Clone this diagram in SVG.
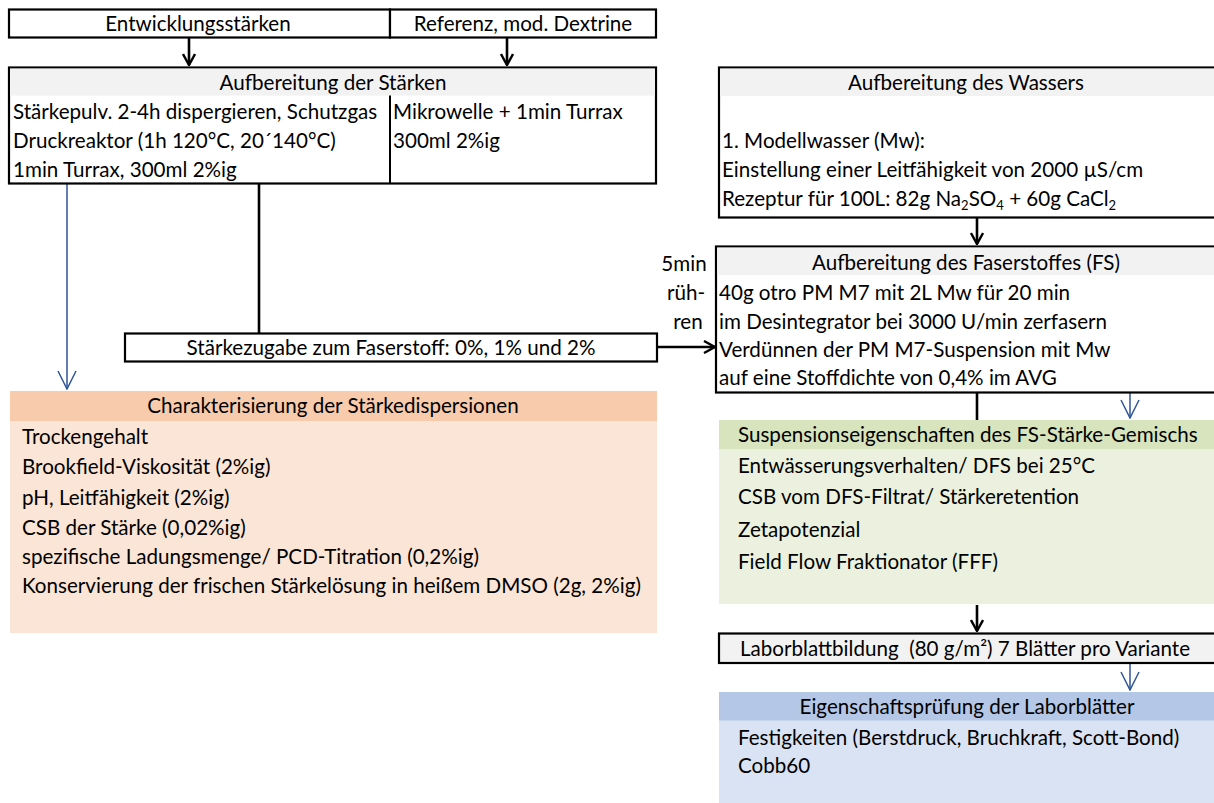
<svg xmlns="http://www.w3.org/2000/svg" width="1214" height="803" viewBox="0 0 1214 803">
<style>
text{font-family:Lato,"Carlito","Liberation Sans",sans-serif;font-size:20.6px;fill:#000;white-space:pre}
.c{text-anchor:middle}
.box{fill:#fff;stroke:#000;stroke-width:2.2}
.hdr{fill:#f2f2f2}
.blk{stroke:#000;stroke-width:2.6;fill:none}
.blu{stroke:#2f5597;stroke-width:1.5;fill:none}
</style>
<defs>
<marker id="ab" viewBox="0 0 14 14" refX="13" refY="7" markerWidth="14" markerHeight="14" markerUnits="userSpaceOnUse" orient="auto">
<path d="M2,1 L13,7 L2,13" fill="none" stroke="#000" stroke-width="2.4"/>
</marker>
<marker id="au" viewBox="0 0 20 20" refX="19" refY="10" markerWidth="20" markerHeight="20" markerUnits="userSpaceOnUse" orient="auto">
<path d="M1,1 L19,10 L1,19" fill="none" stroke="#2f5597" stroke-width="1.5"/>
</marker>
</defs>

<g id="connectors">
<line class="blk" x1="189" y1="38" x2="189" y2="65" marker-end="url(#ab)"/>
<line class="blk" x1="507" y1="38" x2="507" y2="65" marker-end="url(#ab)"/>
<line class="blu" x1="67" y1="183" x2="67" y2="389" marker-end="url(#au)"/>
<line class="blk" x1="259" y1="183" x2="259" y2="333"/>
<line class="blk" x1="657" y1="347" x2="715" y2="347" marker-end="url(#ab)"/>
<line class="blk" x1="977" y1="217" x2="977" y2="244" marker-end="url(#ab)"/>
<line class="blk" x1="977" y1="392" x2="977" y2="420"/>
<line class="blu" x1="1130" y1="393" x2="1130" y2="418" marker-end="url(#au)"/>
<line class="blk" x1="977" y1="605" x2="977" y2="631" marker-end="url(#ab)"/>
<line class="blu" x1="1130" y1="664" x2="1130" y2="690" marker-end="url(#au)"/>
</g>

<g id="entwicklungsstaerken">
<rect class="box" x="9" y="9.5" width="381" height="28"/>
<text class="c" x="198" y="30.5">Entwicklungsstärken</text>
</g>
<g id="referenz">
<rect class="box" x="390" y="9.5" width="266" height="28"/>
<text class="c" x="523" y="30.5">Referenz, mod. Dextrine</text>
</g>

<g id="aufbereitung-staerken">
<rect class="box" x="9" y="67.5" width="647" height="116"/>
<rect class="hdr" x="10.1" y="68.6" width="644.8" height="27"/>
<line x1="390" y1="95.5" x2="390" y2="183" stroke="#000" stroke-width="2"/>
<text class="c" x="333" y="89.5">Aufbereitung der Stärken</text>
<text x="13" y="118.5">Stärkepulv. 2-4h dispergieren, Schutzgas</text>
<text x="13" y="147.5">Druckreaktor (1h 120°C, 20´140°C)</text>
<text x="13" y="176.5">1min Turrax, 300ml 2%ig</text>
<text x="393" y="118.5">Mikrowelle + 1min Turrax</text>
<text x="393" y="147.5">300ml 2%ig</text>
</g>

<g id="staerkezugabe">
<rect class="box" x="125" y="333.5" width="532" height="28"/>
<text class="c" x="391" y="354.5">Stärkezugabe zum Faserstoff: 0%, 1% und 2%</text>
</g>

<g id="ruehren">
<text class="c" x="684" y="270.5">5min</text>
<text class="c" x="686" y="299.5">rüh-</text>
<text class="c" x="688" y="328.5">ren</text>
</g>

<g id="charakterisierung">
<rect x="10" y="391" width="647" height="242" fill="#fbe5d6"/>
<rect x="10" y="391" width="647" height="30" fill="#f8cbad"/>
<text class="c" x="333" y="412.5">Charakterisierung der Stärkedispersionen</text>
<text x="22" y="443.5">Trockengehalt</text>
<text x="22" y="473.5">Brookfield-Viskosität (2%ig)</text>
<text x="22" y="504.5">pH, Leitfähigkeit (2%ig)</text>
<text x="22" y="535">CSB der Stärke (0,02%ig)</text>
<text x="22" y="563.5">spezifische Ladungsmenge/ PCD-Titration (0,2%ig)</text>
<text x="22" y="592.5">Konservierung der frischen Stärkelösung in heißem DMSO (2g, 2%ig)</text>
</g>

<g id="aufbereitung-wasser">
<rect class="box" x="719" y="67.5" width="500" height="150"/>
<rect class="hdr" x="720.1" y="68.6" width="498" height="27.5"/>
<text class="c" x="966" y="89.5">Aufbereitung des Wassers</text>
<text x="722" y="147.5">1. Modellwasser (Mw):</text>
<text x="722" y="176.5">Einstellung einer Leitfähigkeit von 2000 µS/cm</text>
<text x="722" y="205.5">Rezeptur für 100L: 82g Na<tspan font-size="13" dy="4">2</tspan><tspan dy="-4">SO</tspan><tspan font-size="13" dy="4">4</tspan><tspan dy="-4"> + 60g CaCl</tspan><tspan font-size="13" dy="4">2</tspan></text>
</g>

<g id="aufbereitung-faserstoff">
<rect class="box" x="716" y="246.5" width="503" height="146"/>
<rect class="hdr" x="717.1" y="247.6" width="501" height="27.5"/>
<text class="c" x="966" y="269.5">Aufbereitung des Faserstoffes (FS)</text>
<text x="719" y="299.5">40g otro PM M7 mit 2L Mw für 20 min</text>
<text x="719" y="328.5">im Desintegrator bei 3000 U/min zerfasern</text>
<text x="719" y="356.5">Verdünnen der PM M7-Suspension mit Mw</text>
<text x="719" y="384.5">auf eine Stoffdichte von 0,4% im AVG</text>
</g>

<g id="suspensionseigenschaften">
<rect x="719" y="420" width="500" height="184" fill="#ebf1de"/>
<rect x="719" y="420" width="500" height="29" fill="#d7e4bd"/>
<text x="738" y="441.5">Suspensionseigenschaften des FS-Stärke-Gemischs</text>
<text x="738" y="472.5">Entwässerungsverhalten/ DFS bei 25°C</text>
<text x="738" y="503.5">CSB vom DFS-Filtrat/ Stärkeretention</text>
<text x="738" y="536.5">Zetapotenzial</text>
<text x="738" y="568.5">Field Flow Fraktionator (FFF)</text>
</g>

<g id="laborblattbildung">
<rect x="719" y="633.5" width="500" height="29.5" fill="#f2f2f2" stroke="#000" stroke-width="2.2"/>
<text x="740" y="655.5">Laborblattbildung  (80 g/m²) 7 Blätter pro Variante</text>
</g>

<g id="eigenschaftspruefung">
<rect x="719" y="692" width="500" height="115" fill="#dae3f3"/>
<rect x="719" y="692" width="500" height="28.5" fill="#b4c7e7"/>
<text class="c" x="967" y="713.5">Eigenschaftsprüfung der Laborblätter</text>
<text x="738" y="744.5">Festigkeiten (Berstdruck, Bruchkraft, Scott-Bond)</text>
<text x="738" y="772.5">Cobb60</text>
</g>
</svg>
